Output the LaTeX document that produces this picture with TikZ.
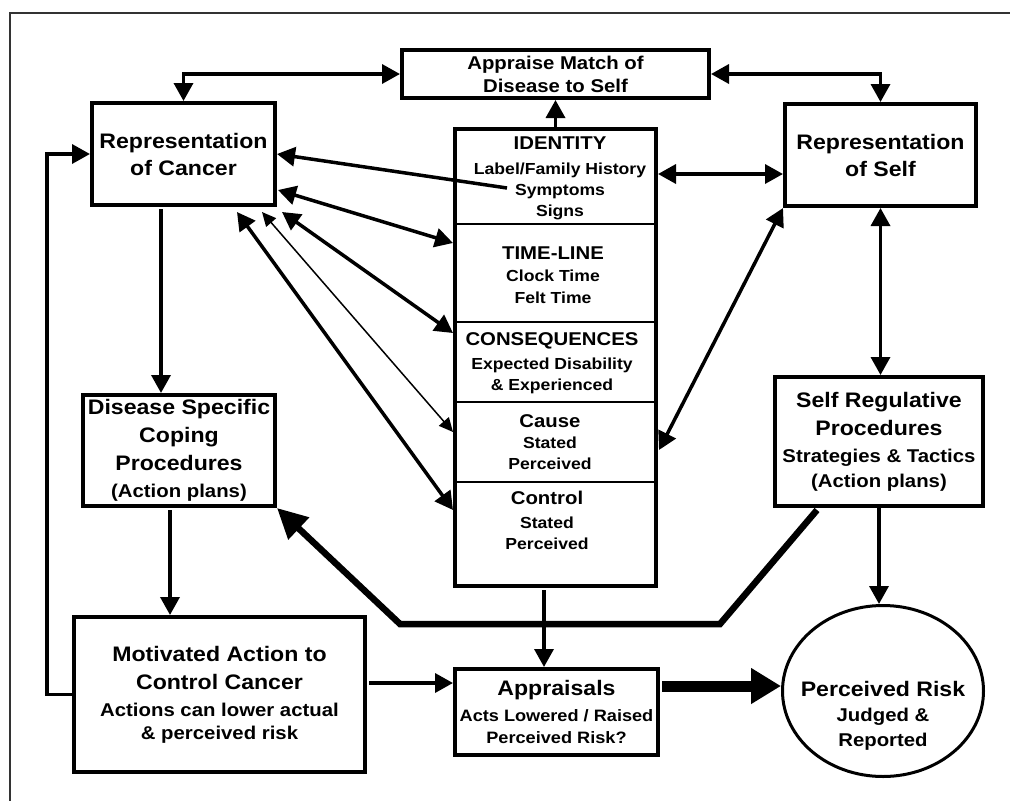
\documentclass[tikz,border=0pt]{standalone}
\usepackage{fontspec}
\setmainfont{Liberation Sans}[FakeStretch=1.1]
\usetikzlibrary{arrows.meta,shapes.geometric}
\newcommand{\fA}{\fontsize{21}{27}\selectfont}
\newcommand{\fB}{\fontsize{18.5}{24}\selectfont}
\newcommand{\fC}{\fontsize{16}{21}\selectfont}
\newcommand{\fH}{\fontsize{18.5}{21}\selectfont}
\newcommand{\fAS}{\fontsize{16.5}{22}\selectfont}
\begin{document}
\begin{tikzpicture}[x=1pt,y=-1pt,
  box/.style={draw, line width=4pt, rectangle, inner sep=0pt, align=center, font=\bfseries\fA},
  coltxt/.style={inner sep=0pt, align=center, font=\bfseries\fC},
  conn/.style={line width=3.5pt, arrows={-Triangle[length=18pt,width=19pt]}},
  bconn/.style={line width=3.5pt, arrows={Triangle[length=18pt,width=19pt]-Triangle[length=18pt,width=19pt]}},
  bthin/.style={line width=1.5pt, arrows={Triangle[length=14pt,width=13pt]-Triangle[length=14pt,width=13pt]}},
  thickarr/.style={line width=6.5pt, arrows={-Triangle[length=30pt,width=29pt]}},
  bigarr/.style={line width=11pt, arrows={-Triangle[length=30pt,width=34pt]}},
  divider/.style={line width=2pt}
]
\useasboundingbox (0,0) rectangle (1010,801);
\fill[white] (0,0) rectangle (1010,801);
\draw[line width=2pt, black!80] (10,801) -- (10,13) -- (1010,13);

% boxes
\node[box, minimum width=307pt, minimum height=48pt, font=\bfseries\fB] (appraise) at (555.5,74) {Appraise Match of\\[-1pt]Disease to Self};
\node[box, minimum width=183pt, minimum height=102pt] (repc) at (183.5,154) {Representation\\of Cancer};
\node[box, minimum width=191pt, minimum height=102pt] (reps) at (880.5,155) {Representation\\of Self};
\node[box, minimum width=201pt, minimum height=457pt] (col) at (555.5,357.5) {};
\draw[divider] (453,224) -- (658,224);
\draw[divider] (453,322) -- (658,322);
\draw[divider] (453,402) -- (658,402);
\draw[divider] (453,482) -- (658,482);
\node[box, minimum width=192pt, minimum height=111pt] (dis) at (179,450.5) {Disease Specific\\[1pt]Coping\\[1pt]Procedures\\{\fB (Action plans)}};
\node[box, minimum width=208pt, minimum height=129pt] (selfreg) at (879,441.5) {Self Regulative\\[1pt]Procedures\\{\fB Strategies \& Tactics}\\[-2pt]{\fB (Action plans)}};
\node[box, minimum width=291pt, minimum height=155pt] (mot) at (219.5,694.5) {Motivated Action to\\[1pt]Control Cancer\\{\fB Actions can lower actual}\\[-4pt]{\fB \& perceived risk}};
\node[box, minimum width=203pt, minimum height=86pt, font=\bfseries\fAS] (appr) at (556.5,712) {{\fA Appraisals}\\[4pt]Acts Lowered / Raised\\Perceived Risk?};
\node[draw, ellipse, line width=3pt, minimum width=201pt, minimum height=171pt, inner sep=0pt] (risk) at (883,691) {};
\node[inner sep=0pt, align=center, font=\bfseries\fB] (risktxt) at (883,716) {{\fA Perceived Risk}\\[1pt]Judged \&\\[1pt]Reported};

% column texts
\node[coltxt] (tid) at (560,178) {{\fH IDENTITY}\\[4pt]Label/Family History\\Symptoms\\Signs};
\node[coltxt] (ttl) at (553,275) {{\fH TIME-LINE}\\[1pt]Clock Time\\[1pt]Felt Time};
\node[coltxt] (tcons) at (552,363) {{\fH CONSEQUENCES}\\[3pt]Expected Disability\\\& Experienced};
\node[coltxt] (tcause) at (550,442) {{\fH Cause}\\Stated\\Perceived};
\node[coltxt] (tctrl) at (547,520) {{\fH Control}\\[3pt]Stated\\Perceived};

% attachment points
\coordinate (cLsym) at (507,188);
\coordinate (cLtime) at (453,243);
\coordinate (cLcons) at (453,333);
\coordinate (cLcause) at (453,432);
\coordinate (cLctrl) at (453,510);
\coordinate (cRlab) at (658,174);
\coordinate (cRcause) at (659,450);
\coordinate (rcT) at (278,190);
\coordinate (rcC) at (282,212);
\coordinate (rcCa) at (262,212);
\coordinate (rcCt) at (237,212);
\coordinate (rsL) at (783,174);
\coordinate (rcD) at (161,209);
\coordinate (dD) at (170,510);
\coordinate (mE) at (369,683);
\coordinate (cB) at (544,590);
\coordinate (aE) at (662,686);
\coordinate (sB) at (817,510);
\coordinate (k1) at (720,624);
\coordinate (k2) at (400,624);

% connectors
\draw[bconn] (appraise.west) -| (repc.north);
\draw[bconn] (appraise.east) -| (reps.north);
\draw[conn] (col.north) -- (appraise.south);
\draw[conn] (cLsym) -- (repc.east);
\draw[bconn] (rcT) -- (cLtime);
\draw[bconn] (rcC) -- (cLcons);
\draw[bthin] (rcCa) -- (cLcause);
\draw[bconn] (rcCt) -- (cLctrl);
\draw[bconn] (cRlab) -- (rsL);
\draw[bconn] (reps.south west) -- (cRcause);
\draw[bconn] (reps.south) -- (reps.south |- selfreg.north);
\draw[conn] (selfreg.south) -- (selfreg.south |- risk.north);
\draw[conn] (rcD) -- (rcD |- dis.north);
\draw[conn] (dD) -- (dD |- mot.north);
\draw[conn] (mot.west) -- ++(-25,0) |- (repc.west);
\draw[conn] (mE) -- (mE -| appr.west);
\draw[conn] (cB) -- (cB |- appr.north);
\draw[bigarr] (aE) -- (aE -| risk.west);
\draw[thickarr] (sB) -- (k1) -- (k2) -- (dis.south east);
\end{tikzpicture}
\end{document}
